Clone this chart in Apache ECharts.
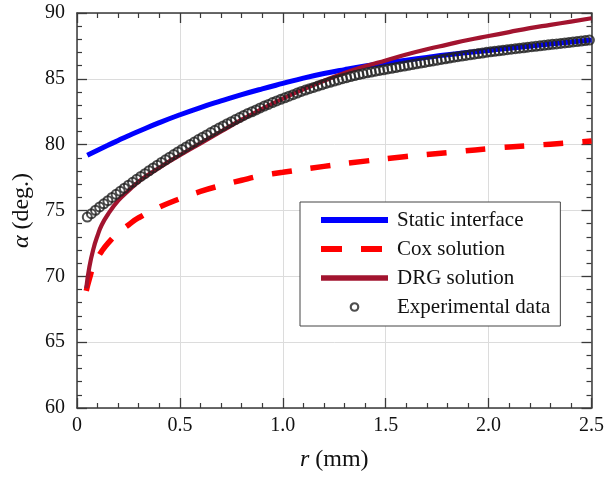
<!DOCTYPE html>
<html><head><meta charset="utf-8">
<script src="https://cdn.jsdelivr.net/npm/echarts@6/dist/echarts.min.js"></script>
<style>html,body{margin:0;padding:0;background:#fff}#c{width:607px;height:477px}</style>
</head><body><div id="c"></div>
<script>
// ---- data ----
const seriesNames = ['Static interface', 'Cox solution', 'DRG solution', 'Experimental data'];
const xTickLabels = ['0', '0.5', '1.0', '1.5', '2.0', '2.5'];
const yTickLabels = ['60', '65', '70', '75', '80', '85', '90'];

const staticR = [0.05,0.10,0.15,0.20,0.25,0.30,0.40,0.50,0.60,0.70,0.80,0.90,1.00,1.10,1.20,1.30,1.40,1.50,1.60,1.70,1.80,1.90,2.00,2.10,2.20,2.30,2.40,2.50];
const staticA = [79.2,79.58,79.95,80.32,80.68,81.02,81.67,82.27,82.82,83.32,83.8,84.24,84.65,85.05,85.4,85.7,85.97,86.2,86.42,86.63,86.83,87.0,87.16,87.32,87.48,87.64,87.8,87.95];

const coxR = [0.045,0.06,0.08,0.10,0.12,0.15,0.20,0.25,0.30,0.40,0.50,0.60,0.70,0.80,0.90,1.00,1.20,1.40,1.60,1.80,2.00,2.20,2.40,2.50];
const coxA = [68.9,69.8,70.8,71.4,71.9,72.5,73.3,73.9,74.45,75.25,75.9,76.45,76.9,77.3,77.65,77.9,78.35,78.75,79.1,79.4,79.7,79.93,80.15,80.28];

const drgR = [0.045,0.06,0.08,0.10,0.12,0.15,0.20,0.25,0.30,0.35,0.40,0.45,0.50,0.60,0.70,0.80,0.90,1.00,1.10,1.20,1.30,1.40,1.50,1.60,1.70,1.80,1.90,2.00,2.10,2.20,2.30,2.40,2.50];
const drgA = [69.1,70.7,72.1,73.1,73.9,74.7,75.75,76.5,77.2,77.75,78.25,78.75,79.2,80.1,81.0,81.9,82.72,83.5,84.2,84.85,85.45,85.95,86.4,86.85,87.25,87.6,87.95,88.25,88.55,88.85,89.1,89.35,89.6];

const expR = [0.05,0.07,0.09,0.11,0.13,0.15,0.17,0.19,0.21,0.23,0.25,0.27,0.29,0.31,0.33,0.35,0.37,0.39,0.41,0.43,0.45,0.47,0.49,0.51,0.53,0.55,0.57,0.59,0.61,0.63,0.65,0.67,0.69,0.71,0.73,0.75,0.77,0.79,0.81,0.83,0.85,0.87,0.89,0.91,0.93,0.95,0.97,0.99,1.01,1.03,1.05,1.07,1.09,1.11,1.13,1.15,1.17,1.19,1.21,1.23,1.25,1.27,1.29,1.31,1.33,1.35,1.37,1.39,1.41,1.43,1.45,1.47,1.49,1.51,1.53,1.55,1.57,1.59,1.61,1.63,1.65,1.67,1.69,1.71,1.73,1.75,1.77,1.79,1.81,1.83,1.85,1.87,1.89,1.91,1.93,1.95,1.97,1.99,2.01,2.03,2.05,2.07,2.09,2.11,2.13,2.15,2.17,2.19,2.21,2.23,2.25,2.27,2.29,2.31,2.33,2.35,2.37,2.39,2.41,2.43,2.45,2.47,2.49];
const expA = [74.50,74.76,75.02,75.27,75.51,75.75,75.99,76.23,76.46,76.69,76.92,77.14,77.37,77.59,77.80,78.02,78.23,78.44,78.65,78.85,79.05,79.25,79.45,79.64,79.83,80.02,80.20,80.39,80.57,80.74,80.92,81.09,81.26,81.42,81.59,81.75,81.91,82.06,82.22,82.37,82.50,82.64,82.79,82.93,83.06,83.20,83.32,83.44,83.56,83.68,83.80,83.92,84.04,84.15,84.25,84.35,84.45,84.55,84.65,84.74,84.83,84.92,85.01,85.09,85.17,85.25,85.32,85.39,85.46,85.52,85.58,85.64,85.69,85.75,85.80,85.86,85.92,85.97,86.03,86.08,86.14,86.20,86.25,86.31,86.36,86.42,86.47,86.52,86.58,86.63,86.68,86.73,86.78,86.82,86.87,86.92,86.96,87.01,87.05,87.09,87.13,87.17,87.21,87.25,87.29,87.33,87.36,87.40,87.44,87.47,87.51,87.55,87.58,87.62,87.65,87.69,87.73,87.76,87.80,87.83,87.87,87.91,87.94];

// ---- chart ----
const pairs = (xs, ys) => xs.map((x, i) => [x, ys[i]]);
const FONT = '"Liberation Serif", "Times New Roman", serif';
const AXC = '#3a3a3a';
const BLUE = '#0000ff', RED = '#ff0000', DRG = '#a2142f';

const baseX = {
  type: 'value', min: 0, max: 2.5, interval: 0.5,
  axisLine: { show: true, onZero: false, lineStyle: { color: AXC, width: 1.5 } },
  axisTick: { show: true, inside: true, length: 10, lineStyle: { color: AXC, width: 1.3 } },
  minorTick: { show: true, splitNumber: 5, length: 5, lineStyle: { color: AXC, width: 1.2 } },
};
const baseY = {
  type: 'value', min: 60, max: 90, interval: 5,
  axisLine: { show: true, onZero: false, lineStyle: { color: AXC, width: 1.5 } },
  axisTick: { show: true, inside: true, length: 10, lineStyle: { color: AXC, width: 1.3 } },
  minorTick: { show: true, splitNumber: 5, length: 5, lineStyle: { color: AXC, width: 1.2 } },
};

const option = {
  animation: false,
  backgroundColor: '#fff',
  grid: { left: 77, right: 12, top: 13, bottom: 64, containLabel: false },
  xAxis: [
    Object.assign({}, baseX, {
      position: 'bottom',
      axisLabel: { show: true, margin: 8, color: '#111', fontFamily: FONT, fontSize: 20,
        formatter: (v) => xTickLabels[Math.round(v / 0.5)] },
      splitLine: { show: true, lineStyle: { color: '#dcdcdc', width: 1 } },
      name: '{i|r} (mm)', nameLocation: 'middle', nameGap: 40,
      nameTextStyle: { color: '#111', fontFamily: FONT, fontSize: 24,
        rich: { i: { fontStyle: 'italic', fontFamily: FONT, fontSize: 24, color: '#111' } } }
    }),
    Object.assign({}, baseX, { position: 'top', axisLabel: { show: false }, splitLine: { show: false } })
  ],
  yAxis: [
    Object.assign({}, baseY, {
      position: 'left',
      axisLabel: { show: true, margin: 12, color: '#111', fontFamily: FONT, fontSize: 20,
        formatter: (v) => yTickLabels[Math.round((v - 60) / 5)] },
      splitLine: { show: true, lineStyle: { color: '#dcdcdc', width: 1 } },
      name: '{i|α} (deg.)', nameLocation: 'middle', nameGap: 42, nameRotate: 90,
      nameTextStyle: { color: '#111', fontFamily: FONT, fontSize: 24,
        rich: { i: { fontStyle: 'italic', fontFamily: FONT, fontSize: 24, color: '#111' } } }
    }),
    Object.assign({}, baseY, { position: 'right', axisLabel: { show: false }, splitLine: { show: false } })
  ],
  legend: {
    show: true, left: 300, top: 202, orient: 'vertical',
    data: [
      { name: seriesNames[0], icon: 'path://M0,0H67V6H0Z', itemStyle: { color: BLUE, borderWidth: 0 } },
      { name: seriesNames[1], icon: 'path://M0,0H21V6H0Z M40,0H61V6H40Z M67,0H67V6H67Z', itemStyle: { color: RED, borderWidth: 0 } },
      { name: seriesNames[2], icon: 'path://M0,0H67V5.5H0Z', itemStyle: { color: DRG, borderWidth: 0 } },
      { name: seriesNames[3], icon: 'circle', itemStyle: { color: 'rgba(0,0,0,0)', borderColor: '#222', borderWidth: 2.2 } }
    ],
    backgroundColor: '#fff', borderColor: '#444', borderWidth: 1,
    padding: [7, 10, 8, 21],
    itemWidth: 67, itemHeight: 7.5, itemGap: 7,
    textStyle: { fontFamily: FONT, fontSize: 21, color: '#111', lineHeight: 22, padding: [0, 0, 0, 4] }
  },
  series: [
    { name: seriesNames[0], type: 'line', data: pairs(staticR, staticA), smooth: true, symbol: 'none',
      lineStyle: { color: BLUE, width: 5 }, itemStyle: { color: BLUE }, z: 2 },
    { name: seriesNames[1], type: 'line', data: pairs(coxR, coxA), smooth: true, symbol: 'none',
      lineStyle: { color: RED, width: 5.5, type: [20, 19] }, itemStyle: { color: RED }, z: 2 },
    { name: seriesNames[2], type: 'line', data: pairs(drgR, drgA), smooth: true, symbol: 'none',
      lineStyle: { color: DRG, width: 4.2 }, itemStyle: { color: DRG }, z: 2 },
    { name: seriesNames[3], type: 'scatter', data: pairs(expR, expA), symbol: 'circle', symbolSize: 9,
      itemStyle: { color: 'rgba(0,0,0,0)', borderColor: '#222', borderWidth: 2 }, z: 3 }
  ]
};
echarts.init(document.getElementById('c'), null, { renderer: 'canvas' }).setOption(option);
</script></body></html>
